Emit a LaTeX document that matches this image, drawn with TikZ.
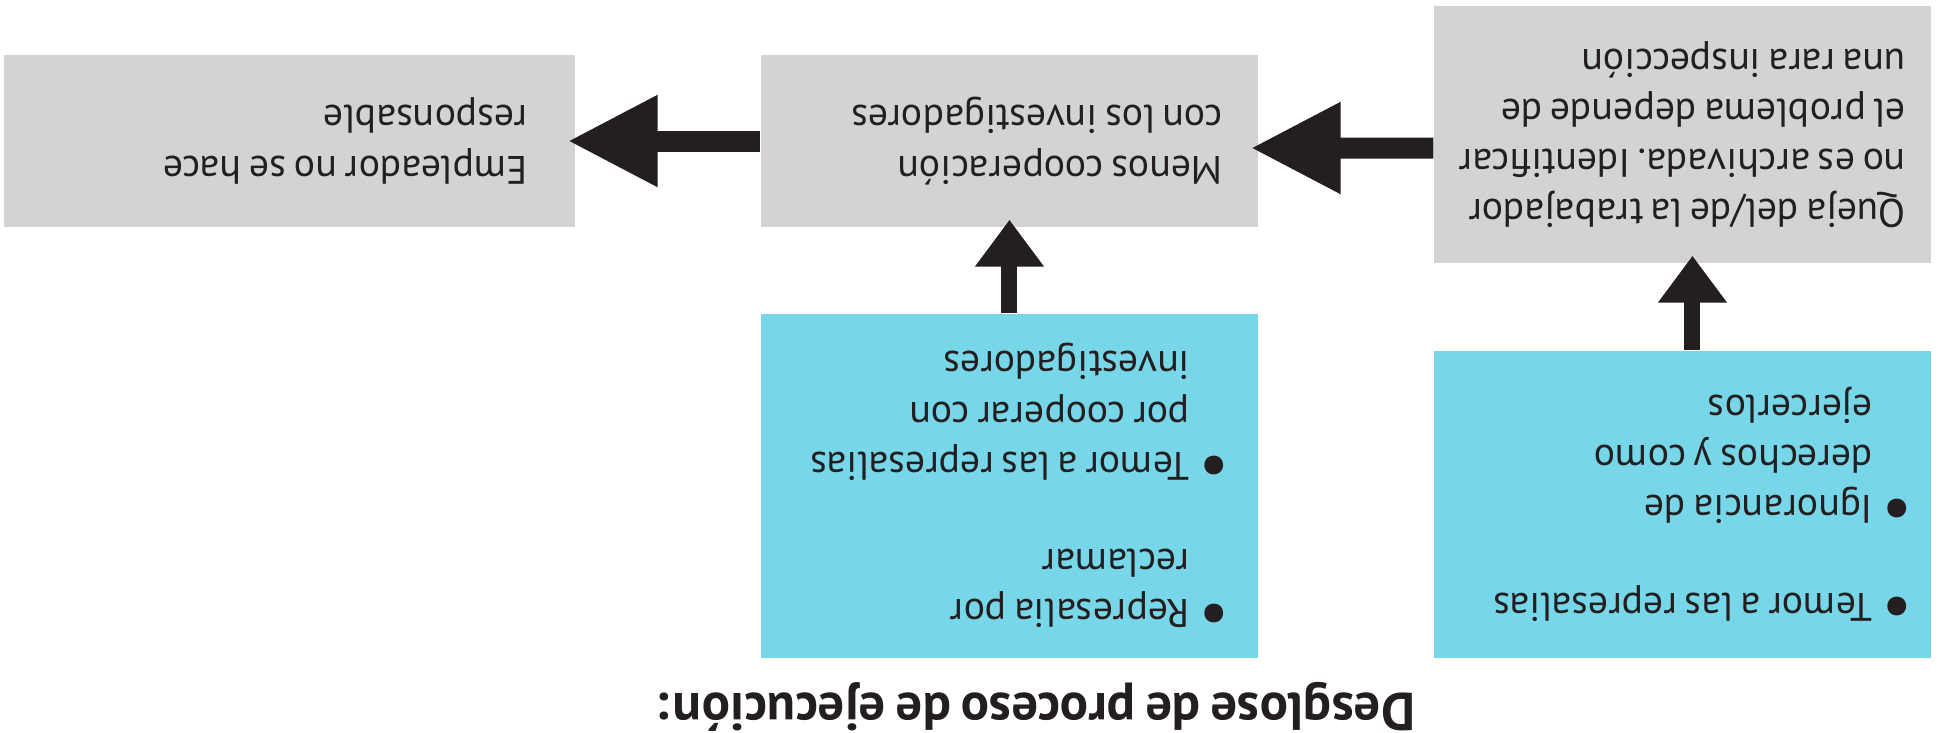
\documentclass[tikz,border=0pt]{standalone}
\usepackage{fontspec}
\setmainfont[WordSpace=0.75]{PT Sans}
\usetikzlibrary{arrows.meta,calc}
\frenchspacing

\definecolor{boxgray}{HTML}{D1D3D4}
\definecolor{boxcyan}{HTML}{77D6E8}
\definecolor{inkblack}{HTML}{231F20}

\tikzset{
  effect/.style={fill=boxgray, inner ysep=0pt, text=inkblack,
    font=\fontsize{11.3}{14.3}\selectfont},
  cause/.style={effect, fill=boxcyan},
  bigarrow/.style={draw=inkblack, line width=0.21cm,
    -{Triangle[length=0.9cm,width=0.86cm]}, shorten >=-0.08cm},
  smallarrow/.style={draw=inkblack, line width=0.16cm,
    -{Triangle[length=0.47cm,width=0.66cm]}, shorten >=-0.08cm},
}
% left-aligned block of given width, lines broken by hand
\newcommand{\boxtext}[2]{\makebox[#1][l]{\begin{tabular}{@{}l@{}}#2\end{tabular}}}
\newcommand{\bul}{\makebox[0.33cm][l]{\hspace*{-0.07cm}\raisebox{-0.2em}{\scalebox{1.7}{\textbullet}}}}
\newcommand{\hang}{\hspace*{0.33cm}}

\begin{document}
\begin{tikzpicture}[rotate=180, transform shape]
  % whole figure is printed upside down
  \useasboundingbox (0,0) rectangle (19.47,7.32);

  % title
  \node[text=inkblack, font=\bfseries\fontsize{15}{17}\selectfont] (titulo)
    at (9.10,7.07) {Desglose de proceso de ejecución:};

  % causes
  \node[cause, inner xsep=0.25cm, minimum height=3.07cm] (ignor) at (2.645,5.045)
    {\boxtext{4.47cm}{\bul Temor a las represalias\\[0.48cm]
      \bul Ignorancia de\\\hang derechos y como\\\hang ejercerlos}};
  \node[cause, inner xsep=0.35cm, minimum height=3.44cm] (miedo) at (9.375,4.86)
    {\boxtext{4.27cm}{\bul Represalia por\\\hang reclamar\\[0.47cm]
      \bul Temor a las represalias\\\hang por cooperar con\\\hang investigadores}};

  % chain of effects
  \node[effect, inner xsep=0.25cm, minimum height=2.57cm] (queja) at (2.645,1.345)
    {\boxtext{4.47cm}{Queja del/de la trabajador\\no es archivada. Identificar\\el problema depende de\\una rara inspección}};
  \node[effect, inner xsep=0.35cm, minimum height=1.72cm] (menoscoop) at (9.375,1.41)
    {\boxtext{4.27cm}{Menos cooperación\\con los investigadores}};
  \node[effect, inner xsep=0.47cm, minimum height=1.72cm] (noresp) at (16.575,1.41)
    {\boxtext{4.77cm}{Empleador no se hace\\responsable}};

  % arrows
  \draw[smallarrow] ($(ignor.south)+(-0.1,0)$) -- ($(queja.north)+(-0.1,0)$);
  \draw[smallarrow] (miedo.south) -- (menoscoop.north);
  \draw[bigarrow] ($(queja.east)+(0,0.135)$) -- ($(menoscoop.west)+(0,0.07)$);
  \draw[bigarrow] (menoscoop.east) -- (noresp.west);
\end{tikzpicture}
\end{document}
